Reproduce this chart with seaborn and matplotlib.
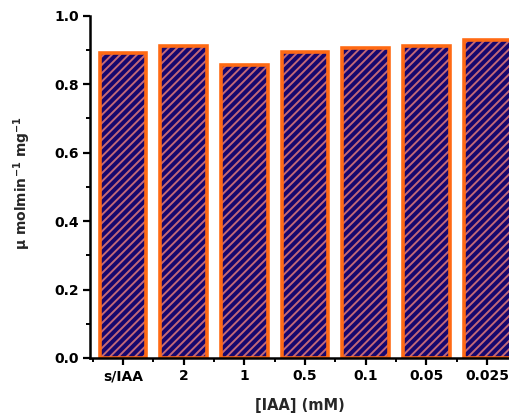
import matplotlib
matplotlib.use("Agg")
import matplotlib.pyplot as plt
import seaborn as sns
import pandas as pd
from matplotlib.ticker import MultipleLocator, FixedLocator

# Specific activity for each IAA concentration
concentrations = ["s/IAA", "2", "1", "0.5", "0.1", "0.05", "0.025"]
activity = [0.892, 0.912, 0.857, 0.895, 0.906, 0.912, 0.930]

df = pd.DataFrame({"conc": concentrations, "activity": activity})

sns.set_theme(style="ticks")
plt.rcParams["font.family"] = ["DejaVu Sans"]
plt.rcParams["font.weight"] = "bold"
plt.rcParams["hatch.linewidth"] = 1.4

fig = plt.figure(figsize=(5.10, 4.17), dpi=100)
ax = fig.add_axes([0.1765, 0.1415, 0.8235, 0.8205])

fill_color = "#16076e"
hatch_color = "#c26878"
edge_color = "#ff6a14"

# hatched navy fill
sns.barplot(data=df, x="conc", y="activity", order=concentrations,
            color=fill_color, saturation=1, width=0.77, ax=ax,
            edgecolor=hatch_color, linewidth=0, hatch="////", errorbar=None)
# orange outline
sns.barplot(data=df, x="conc", y="activity", order=concentrations,
            fill=False, width=0.77, ax=ax, edgecolor=edge_color,
            linewidth=2.6, errorbar=None)

ax.set_xlim(-0.545, 6.38)
ax.set_ylim(0, 1.0)
ax.yaxis.set_major_locator(MultipleLocator(0.2))
ax.yaxis.set_minor_locator(MultipleLocator(0.1))
ax.xaxis.set_minor_locator(FixedLocator([i + 0.5 for i in range(-1, 7)]))
ax.set_yticklabels([f"{v:.1f}" for v in ax.get_yticks()])

for side in ["top", "right"]:
    ax.spines[side].set_visible(False)
for side in ["left", "bottom"]:
    ax.spines[side].set_linewidth(1.8)
    ax.spines[side].set_color("black")

ax.tick_params(axis="both", which="major", length=5, width=1.6,
               direction="out", labelsize=10, colors="black", pad=3)
ax.tick_params(axis="both", which="minor", length=3, width=1.4,
               direction="out", colors="black")
for lab in ax.get_xticklabels() + ax.get_yticklabels():
    lab.set_fontweight("bold")

ax.set_xlabel("[IAA] (mM)", fontsize=10.5, fontweight="bold", labelpad=11)
ax.set_ylabel("μ molmin$^{\\mathbf{-1}}$ mg$^{\\mathbf{-1}}$", fontsize=10,
              fontweight="bold")
ax.yaxis.set_label_coords(-0.135, 0.51)

fig.savefig("out.png", dpi=100)
